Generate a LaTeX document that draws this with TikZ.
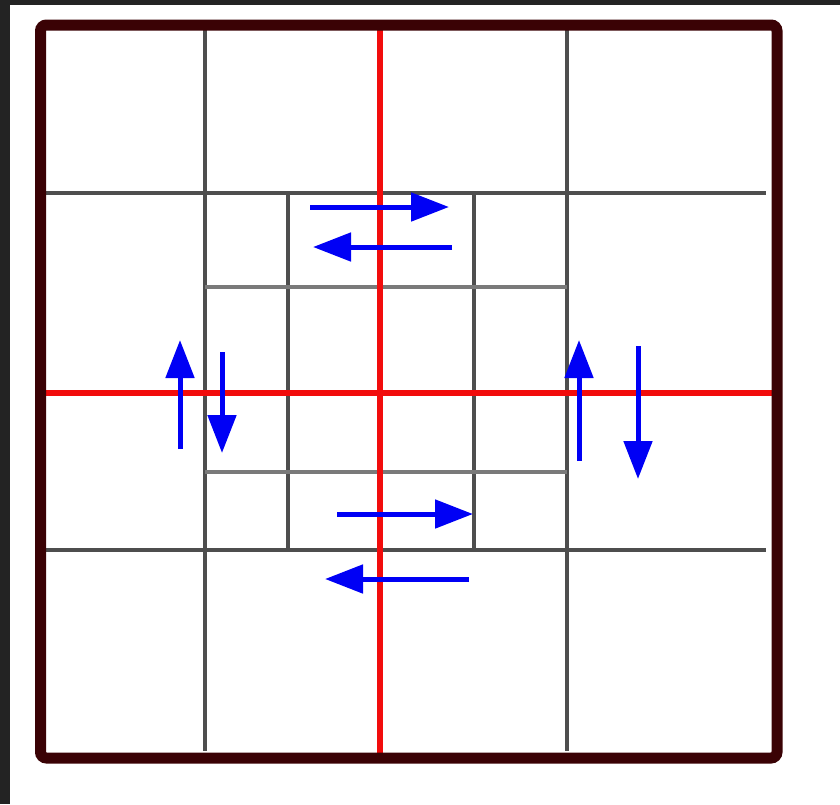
\documentclass[tikz,border=0pt]{standalone}
\usetikzlibrary{arrows.meta}
\definecolor{QTframe}{HTML}{3A0205}
\definecolor{QTstrip}{HTML}{232323}
\definecolor{QTgrid}{HTML}{4E4E4E}
\definecolor{QTgridlite}{HTML}{7A7A7A}
\definecolor{QTred}{HTML}{F20C0C}
\definecolor{QTblue}{HTML}{0000F5}

\begin{document}
\begin{tikzpicture}[
  x=1pt,y=-1pt,
  line cap=butt,
  gridline/.style={draw=QTgrid,line width=3.4pt},
  gridlite/.style={draw=QTgridlite,line width=3.8pt},
  axis/.style={draw=QTred,line width=6pt},
  move/.style={draw=QTblue,line width=5pt,-{Triangle[length=38pt,width=28pt]}}
]
\useasboundingbox (0,0) rectangle (840,804);

% screenshot edge
\fill[QTstrip] (0,0) rectangle (840,5);
\fill[QTstrip] (0,0) rectangle (10,804);

% coarse grid
\draw[gridline] (205,30) -- (205,751);
\draw[gridline] (567,30) -- (567,751);
\draw[gridline] (45,193) -- (766,193);
\draw[gridline] (45,550) -- (766,550);

% refined middle block
\draw[gridline] (288,193) -- (288,550);
\draw[gridline] (474,193) -- (474,550);
\draw[gridlite] (205,287) -- (567,287);
\draw[gridlite] (205,472) -- (567,472);

% partition axes
\draw[axis] (380,30) -- (380,755);
\draw[axis] (45,393) -- (772,393);

% outer boundary
\draw[QTframe,line width=11pt,rounded corners=6pt] (40.5,25) rectangle (777,758);

% exchange arrows
\draw[move] (310,207) -- (449,207);
\draw[move] (452,247) -- (313,247);
\draw[move] (180,449) -- (180,340);
\draw[move] (222,352) -- (222,453);
\draw[move] (579,461) -- (579,340);
\draw[move] (638,346) -- (638,479);
\draw[move] (337,514) -- (473,514);
\draw[move] (469,579) -- (325,579);
\end{tikzpicture}
\end{document}
